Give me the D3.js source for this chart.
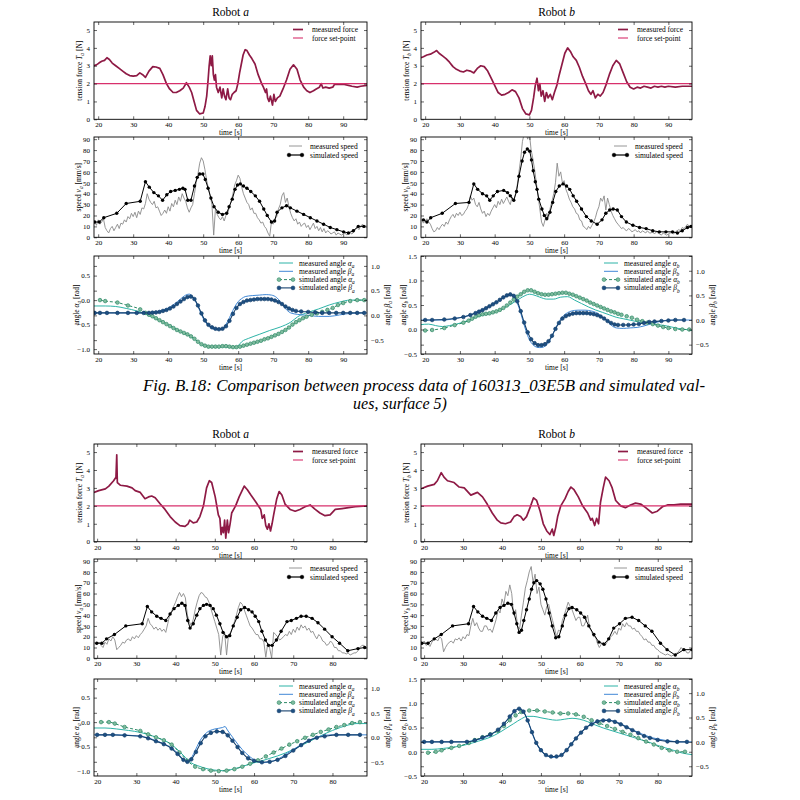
<!DOCTYPE html>
<html>
<head>
<meta charset="utf-8">
<script src="https://cdn.jsdelivr.net/npm/d3@7"></script>
<style>
  body { margin: 0; background: #fff; }
</style>
</head>
<body>
<svg id="fig" width="800" height="800"></svg>
<script>
// ---------- data: tension force [t, N] ----------
const forceA1 = [[18.8,3.0],[19.5,3.05],[20.2,3.15],[21,3.25],[21.8,3.3],[22.5,3.45],[23.2,3.35],[24,3.15],[25,3.0],[26,2.85],[27,2.7],[28,2.55],[29,2.45],[30,2.42],[31,2.45],[31.9,2.6],[32.7,2.5],[33.5,2.35],[34.5,2.7],[35.6,2.95],[36.5,2.93],[37.6,2.85],[38.5,2.5],[39.5,2.0],[40.4,1.7],[41.4,1.5],[42.3,1.5],[43.3,1.6],[44.3,1.75],[45.2,2.05],[46,1.8],[46.7,1.5],[47.4,1.0],[48.1,0.5],[49,0.3],[50,0.35],[50.5,0.7],[51,1.3],[51.4,2.2],[51.7,3.0],[52,3.55],[52.3,3.0],[52.6,3.55],[52.9,2.5],[53.2,2.2],[53.5,2.5],[53.8,1.8],[54.3,1.5],[54.8,1.8],[55.3,1.2],[55.7,1.7],[56.1,1.3],[56.5,1.1],[57,1.7],[57.4,1.2],[57.8,1.1],[58.3,1.4],[58.8,1.5],[59.4,1.6],[59.9,2.0],[60.4,2.6],[60.8,3.0],[61.4,3.6],[62,3.9],[62.5,3.85],[63.2,3.6],[63.9,3.4],[64.8,3.1],[65.7,2.5],[66.7,2.0],[67.2,1.8],[67.8,1.5],[68.1,1.7],[68.4,1.2],[68.8,1.0],[69.2,1.3],[69.8,0.8],[70.2,1.4],[70.6,1.0],[71.2,1.2],[71.9,1.3],[72.8,1.7],[73.8,2.2],[74.8,2.8],[75.8,3.05],[76.8,2.8],[77.7,2.2],[78.7,1.8],[79.6,1.6],[80.5,1.5],[81.5,1.6],[82.3,1.7],[83.2,1.8],[83.7,2.0],[84.2,1.75],[85,1.8],[86,1.75],[87,1.8],[87.5,1.95],[88.5,1.95],[90.3,1.95],[91.5,1.9],[92.5,1.85],[94,1.8],[95,1.85],[96.8,1.9]];
const forceB1 = [[18.8,3.45],[19.5,3.5],[20.5,3.6],[21.5,3.65],[22.5,3.75],[23.3,3.85],[24,3.7],[25,3.55],[26,3.4],[27,3.2],[28,2.95],[29,2.8],[30,2.7],[31,2.65],[32,2.75],[33,2.7],[34,2.6],[35,2.85],[36,3.0],[37,2.95],[38,2.7],[39,2.3],[40,1.9],[41,1.5],[42,1.35],[43,1.4],[44,1.5],[45,1.65],[46,1.55],[47,1.2],[48,0.6],[49,0.3],[50,0.25],[50.6,0.5],[51.2,1.2],[51.7,1.9],[52.2,2.3],[52.6,1.6],[53,2.0],[53.4,1.3],[53.9,1.6],[54.4,1.0],[54.9,1.5],[55.4,1.2],[56,1.4],[56.6,1.1],[57.2,1.5],[57.9,1.9],[58.6,2.5],[59.4,3.1],[60.2,3.7],[61,4.0],[61.8,3.8],[62.6,3.5],[63.5,3.3],[64.4,2.9],[65.3,2.4],[66.2,2.0],[67,1.6],[67.7,1.4],[68.3,1.6],[69,1.2],[69.7,1.4],[70.4,1.3],[71.2,1.5],[72,1.9],[73,2.5],[74,3.0],[75,3.3],[76,3.1],[77,2.6],[78,2.1],[79,1.8],[80,1.7],[81,1.8],[82,1.75],[83,1.85],[84,1.8],[85,1.75],[86,1.85],[87,1.8],[88,1.85],[89,1.8],[90,1.85],[92,1.8],[94,1.85],[96.8,1.85]];
const forceA2 = [[19.2,2.75],[20.4,2.85],[22.1,2.95],[23,3.1],[24.2,3.4],[24.8,3.6],[25,4.85],[25.15,3.3],[25.9,3.15],[27.6,3.1],[28.9,3.0],[29.7,2.85],[31,2.75],[32.2,2.4],[33.1,2.5],[33.9,2.55],[34.8,2.45],[36.1,2.1],[37.3,1.8],[38.6,1.4],[39.9,1.1],[41.1,0.9],[42.4,0.85],[43.2,1.0],[43.6,1.2],[44.5,1.05],[45.4,1.1],[46.2,1.4],[47.1,2.0],[47.9,3.0],[48.6,3.4],[49.2,3.3],[50.1,2.5],[50.9,1.5],[51.3,1.3],[51.6,0.4],[51.9,0.8],[52.2,0.5],[52.5,1.2],[52.8,0.2],[53.2,1.2],[53.5,0.5],[53.9,1.0],[54.3,1.6],[55.3,2.0],[56.2,2.5],[57.5,3.1],[58.3,2.9],[59.2,2.6],[60.5,2.2],[61.7,1.8],[62.1,1.3],[62.6,1.5],[63,0.9],[63.4,0.7],[63.8,1.0],[64.2,0.6],[64.6,1.0],[65,1.5],[65.8,2.4],[66.4,2.8],[67.1,2.6],[67.9,2.1],[69.2,1.8],[70.5,1.7],[71.7,1.8],[73,1.95],[74.3,2.05],[75.6,1.8],[76.8,1.6],[78.1,1.45],[79.4,1.5],[80.7,1.8],[82.4,1.85],[84.1,1.9],[85.8,1.95],[88.8,2.0]];
const forceB2 = [[19.2,2.95],[20.9,3.1],[22.6,3.2],[23.4,3.4],[24.4,3.85],[25.1,3.6],[26,3.4],[27.7,3.3],[29,3.05],[30.3,3.0],[32,2.6],[33.7,2.75],[35,2.5],[36.2,2.1],[37.5,1.6],[38.8,1.2],[39.7,1.05],[40.9,1.0],[42.2,1.1],[43.1,1.4],[43.9,1.5],[44.8,1.4],[45.5,1.2],[46.3,1.4],[47.2,1.9],[48.1,2.45],[48.9,2.3],[49.8,1.7],[50.6,1.0],[51.5,0.6],[52.3,0.4],[52.9,0.7],[53.3,0.35],[53.8,0.8],[54.3,1.4],[55.1,2.0],[56.2,2.4],[57,2.8],[57.7,3.05],[58.5,2.9],[59.6,2.5],[60.7,2.0],[62,1.6],[62.8,1.2],[63.2,1.3],[63.8,0.9],[64.3,1.3],[64.8,1.0],[65.3,2.2],[66,3.0],[66.6,3.6],[67.5,3.4],[68.3,3.0],[69.2,2.3],[70.5,2.0],[71.7,1.9],[73,2.05],[74.3,2.15],[75.6,2.1],[76.9,1.9],[78.6,1.6],[79.9,1.7],[81.2,1.95],[82.5,2.05],[84.2,2.05],[85.9,2.1],[88.8,2.1]];
const forceSetPoint = 2;

// ---------- data: measured speed [mm/s], sampled every 0.5 s ----------
const timeTop = d3.range(19, 97, 0.5);
const timeBot = d3.range(19, 89, 0.5);
const speedMeasA1 = [15,11,16,12,14,17,9,6,4,8,10,6,9,12,8,13,12,16,14,19,17,22,19,23,18,24,21,27,26,31,40,35,32,30,33,27,28,24,20,22,25,22,28,24,31,28,34,30,37,33,40,36,33,27,23,27,30,40,50,58,68,73,70,62,52,45,38,30,2,26,21,18,16,19,15,20,22,28,33,40,48,52,57,54,46,40,36,32,30,25,27,22,22,18,16,13,14,10,8,4,1,14,12,17,19,26,30,38,41,32,36,28,22,18,15,17,12,14,10,12,13,9,11,7,10,13,8,10,6,9,5,8,4,6,5,3,4,5,2,4,3,2,3,4,2,4,4,3,5,7,9,7,10,12,9,11];
const speedMeasB1 = [16,13,15,17,14,12,8,5,6,9,7,10,12,10,14,12,16,19,21,18,22,20,23,20,21,24,26,30,38,34,36,30,28,32,26,22,24,19,22,20,24,27,30,27,33,30,35,31,34,37,33,30,37,33,40,48,60,72,88,95,96,90,95,80,72,62,50,38,26,14,10,16,22,18,27,33,40,50,68,56,60,50,52,44,40,35,32,28,26,22,21,16,15,10,9,7,10,8,11,14,18,24,28,36,33,38,25,36,30,24,20,17,14,12,10,8,9,7,6,8,7,5,6,7,5,6,4,6,5,4,6,4,4,5,3,5,4,3,2,4,3,2,3,4,4,3,5,6,7,6,9,8,10,12,10,11];
const speedMeasA2 = [15,14,13,15,12,10,15,13,18,16,20,17,8,10,12,15,14,17,18,16,20,18,21,19,22,24,27,30,37,32,30,27,29,26,28,25,27,24,32,40,44,48,52,57,61,57,60,56,40,34,30,36,45,52,58,61,60,57,56,52,46,40,34,28,22,3,20,24,3,22,24,28,34,40,47,52,50,45,40,35,30,28,25,22,22,18,18,15,1,14,9,0,24,22,20,17,18,20,22,21,25,22,27,24,29,26,31,28,30,26,28,24,25,21,18,22,20,16,15,12,13,16,14,10,10,7,7,5,5,4,5,3,4,5,5,7,10,12,12,9];
const speedMeasB2 = [15,13,16,12,13,11,15,17,18,16,20,18,6,10,13,15,16,14,18,17,19,16,20,18,22,21,30,37,30,33,28,25,25,30,30,26,27,24,30,36,45,42,55,50,62,58,68,60,40,45,30,27,40,52,65,72,80,85,70,78,60,66,50,45,40,48,50,42,35,28,20,26,25,35,40,46,52,48,45,40,35,38,38,30,30,34,40,28,25,20,20,14,10,13,15,12,15,18,20,22,25,22,28,26,32,29,33,30,30,27,28,25,25,22,20,17,18,15,15,12,12,9,8,6,5,4,3,4,3,2,3,4,5,7,10,8,8,5,5,8];

// ---------- data: simulated speed [t, mm/s] ----------
const speedSimA1 = [[19,14],[20.3,14],[21.6,18],[25.3,22],[28,31],[32,33],[33.5,51],[34.6,46],[35.9,41],[37.2,38],[38.4,34],[39.6,39],[40.7,42],[42,43],[43.2,44],[44.2,45],[44.8,44],[45.6,34],[46.5,34],[47.5,47],[48.3,55],[49,58],[49.9,58],[50.6,53],[51.4,45],[52.2,36],[53.1,28],[54.3,23],[55.5,21],[56.7,22],[57.4,28],[58.3,35],[59.1,44],[59.8,48],[60.6,49],[61.5,47],[62.5,45],[63.6,42],[64.9,38],[66.1,33],[67.3,26],[68.3,20],[69.5,14],[70.4,15],[71.1,23],[72.5,27],[73.8,29],[74.9,27],[76.8,24],[78.7,21],[80.6,18],[82.5,15],[84.4,12],[86.3,9],[88.2,7],[90.1,5],[91.5,4],[92.9,6],[94.3,10],[95.9,10]];
const speedSimB1 = [[19.5,16],[20.5,14],[21.6,18],[24.9,22],[28.7,31],[32.6,32],[34,49],[35.1,44],[36.5,40],[37.7,38],[38.6,34],[39.6,38],[40.8,42],[42.6,43],[43.7,41],[44.5,38],[45.5,34],[46.3,42],[47,56],[47.9,70],[48.6,78],[49.4,81],[50.1,79],[50.6,71],[51.1,61],[51.7,51],[52.2,44],[52.7,35],[53.6,26],[54.3,20],[55,17],[55.9,23],[56.7,32],[57.6,42],[58.6,47],[59.7,49],[60.7,47],[61.6,44],[62.6,38],[63.6,33],[65,26],[66.4,19],[67.8,15],[69.5,12],[70.9,16],[72,22],[73.1,25],[74.1,26],[75.3,25],[76.5,19],[77.9,14],[79.8,11],[81.7,9],[83.6,8],[85.5,6],[87.4,5],[89.3,5],[91.2,5],[92.6,4],[94,6],[95.5,9],[96.5,10]];
const speedSimA2 = [[19.9,14],[21.2,14],[22.4,18],[24.4,22],[27.3,30],[31.5,32],[32.8,48],[33.9,43],[35.2,39],[36.3,37],[37.5,35],[38.6,41],[39.6,46],[40.7,49],[41.6,51],[42.4,49],[43.1,35],[43.7,28],[44.5,32],[45.4,40],[46.2,46],[47.1,49],[47.9,50],[48.8,49],[49.6,46],[50.4,40],[51.3,32],[52.1,24],[53,20],[53.8,21],[54.7,30],[55.7,38],[56.6,45],[57.6,47],[58.6,45],[59.5,43],[60.3,39],[61.2,34],[62,25],[62.9,17],[63.7,12],[64.6,12],[65.7,17],[66.9,25],[68.4,34],[69.5,35],[70.8,37],[72,39],[73.3,39],[74.8,37],[76.3,33],[78,27],[79.9,20],[81.8,14],[83.9,7],[86.5,9],[88.2,10]];
const speedSimB2 = [[19.4,14],[21,14],[22.6,18],[24.4,22],[27.3,30],[31.4,32],[32.7,48],[33.8,43],[35,39],[36.1,37],[37.3,35],[38.4,42],[39.5,47],[40.5,49],[41.5,51],[42.4,50],[43.1,42],[43.8,32],[44.4,24],[45,26],[45.6,35],[46.3,45],[47,55],[47.6,64],[48.2,70],[48.9,72],[49.8,69],[50.5,64],[51.3,55],[52.1,42],[52.9,30],[53.8,19],[54.6,20],[55.5,30],[56.3,40],[57.2,46],[58,47],[59.2,45],[60.2,42],[61.2,38],[62.3,30],[63.6,22],[64.9,15],[66.2,13],[67.4,18],[68.7,28],[70.2,32],[71.7,37],[73.4,38],[75.1,35],[76.8,30],[78.5,25],[80.7,14],[82.4,8],[84.5,3],[86.7,8],[88.8,8]];

// ---------- data: angles [t, rad] ----------
const alphaMeasA1 = [[18.8,-0.12],[22,-0.12],[25,-0.13],[28,-0.17],[31,-0.22],[34,-0.3],[37,-0.4],[40,-0.5],[43,-0.62],[46,-0.73],[48,-0.82],[50,-0.92],[52,-0.95],[55,-0.95],[57,-0.96],[59,-0.97],[60,-0.93],[61,-0.85],[63,-0.78],[66,-0.7],[69,-0.62],[72,-0.55],[75,-0.45],[77,-0.34],[80,-0.25],[83,-0.18],[86,-0.1],[89,-0.04],[92,0.0],[96.8,0.0]];
const alphaSimA1 = [[20.5,0.0],[22,-0.02],[25.5,-0.05],[28.5,-0.11],[32,-0.19],[33.5,-0.26],[34.5,-0.3],[35.5,-0.33],[36.5,-0.37],[37.5,-0.41],[38.5,-0.45],[39.5,-0.49],[40.5,-0.53],[41.5,-0.57],[42.5,-0.61],[43.5,-0.64],[44.5,-0.67],[45.5,-0.7],[46.5,-0.74],[47.5,-0.79],[48.5,-0.85],[49.5,-0.9],[50.5,-0.93],[51.5,-0.95],[52.5,-0.95],[53.5,-0.95],[54.5,-0.95],[55.5,-0.94],[56.5,-0.94],[57.5,-0.95],[58.5,-0.96],[59.5,-0.96],[60.5,-0.95],[61.5,-0.93],[62.5,-0.91],[63.5,-0.89],[64.5,-0.87],[65.5,-0.85],[66.5,-0.83],[67.5,-0.8],[68.5,-0.78],[69.5,-0.75],[70.5,-0.72],[71.5,-0.69],[72.5,-0.65],[73.5,-0.61],[74.5,-0.56],[75.5,-0.5],[76.5,-0.45],[77.5,-0.41],[78.5,-0.37],[79.5,-0.34],[81,-0.3],[82.5,-0.27],[84,-0.24],[85.5,-0.2],[87,-0.16],[88.5,-0.1],[90,-0.06],[92,-0.02],[94,0.0],[96,0.0]];
const betaMeasA1 = [[18.8,0.05],[25,0.05],[30,0.05],[33,0.05],[36,0.07],[38,0.1],[40,0.15],[42,0.24],[43.5,0.33],[45,0.41],[46,0.43],[47,0.38],[48,0.26],[49,0.1],[50,-0.06],[51,-0.17],[52,-0.24],[53,-0.28],[54,-0.29],[55,-0.28],[56,-0.23],[57,-0.12],[58,0.03],[59,0.17],[60,0.28],[61,0.34],[62,0.38],[64,0.4],[66,0.41],[68,0.42],[69.5,0.41],[71,0.36],[72,0.28],[73,0.18],[74,0.1],[75,0.05],[77,0.02],[80,0.0],[83,-0.02],[86,-0.02],[89,0.01],[92,0.04],[96.8,0.05]];
const betaSimA1 = [[19,0.05],[20.5,0.05],[22.5,0.05],[25.5,0.05],[28.5,0.05],[31,0.05],[33,0.05],[34.5,0.05],[35.5,0.055],[36.5,0.06],[37.5,0.07],[38.5,0.09],[39.5,0.11],[40.5,0.14],[41.5,0.18],[42.5,0.23],[43.5,0.28],[44.5,0.33],[45.5,0.37],[46.5,0.38],[47.5,0.33],[48.5,0.2],[49.5,0.04],[50.5,-0.1],[51.5,-0.19],[52.5,-0.24],[53.5,-0.27],[54.5,-0.28],[55.5,-0.27],[56.5,-0.22],[57.5,-0.11],[58.5,0.03],[59.5,0.15],[60.5,0.23],[61.5,0.27],[62.5,0.3],[63.5,0.31],[64.5,0.32],[65.5,0.33],[66.5,0.33],[67.5,0.33],[68.5,0.33],[69.5,0.32],[70.5,0.3],[71.5,0.27],[72.5,0.23],[73.5,0.18],[74.5,0.14],[75.5,0.11],[76.5,0.09],[78,0.08],[80,0.07],[82,0.06],[84,0.05],[86,0.05],[88,0.05],[90,0.05],[92,0.05],[94,0.05],[96,0.05]];

const alphaMeasB1 = [[18.8,0.1],[21,0.11],[23,0.08],[25,0.06],[27,0.08],[29,0.11],[31,0.15],[33,0.2],[35,0.26],[37,0.3],[39,0.33],[41,0.38],[43,0.45],[45,0.53],[47,0.62],[49,0.7],[50,0.72],[51,0.71],[53,0.66],[55,0.62],[57,0.62],[59,0.66],[61,0.67],[63,0.6],[65,0.53],[67,0.46],[69,0.4],[71,0.35],[73,0.3],[75,0.25],[77,0.22],[79,0.19],[81,0.16],[83,0.14],[85,0.12],[87,0.1],[89,0.08],[91,0.05],[93,0.02],[95,0.0],[96.8,-0.02]];
const alphaSimB1 = [[20,-0.02],[22,-0.01],[25.5,0.03],[28.5,0.09],[31,0.14],[32.5,0.18],[33.5,0.22],[34.5,0.26],[35.5,0.29],[36.5,0.31],[37.5,0.32],[38.5,0.33],[39.5,0.35],[40.5,0.37],[41.5,0.4],[42.5,0.44],[43.5,0.49],[44.5,0.55],[45.5,0.61],[46.5,0.67],[47.5,0.72],[48.5,0.77],[49.5,0.8],[50.5,0.8],[51.5,0.77],[52.5,0.74],[53.5,0.72],[54.5,0.71],[55.5,0.71],[56.5,0.72],[57.5,0.73],[58.5,0.74],[59.5,0.75],[60.5,0.75],[61.5,0.73],[62.5,0.71],[63.5,0.68],[64.5,0.65],[65.5,0.62],[66.5,0.59],[67.5,0.55],[68.5,0.52],[69.5,0.49],[70.5,0.46],[71.5,0.43],[72.5,0.4],[73.5,0.37],[74.5,0.35],[75.5,0.32],[76.5,0.3],[78,0.27],[79.5,0.24],[81,0.2],[82.5,0.17],[84,0.14],[85.5,0.11],[87,0.08],[88.5,0.05],[90,0.03],[92,0.01],[94,0.0],[96,0.0]];
const betaMeasB1 = [[18.8,0.0],[25,0.0],[30,0.05],[33,0.1],[36,0.2],[39,0.3],[42,0.43],[44,0.5],[45,0.5],[46,0.42],[47,0.25],[48,0.02],[49,-0.22],[50,-0.4],[51,-0.5],[52,-0.55],[53,-0.56],[54,-0.55],[55,-0.5],[56,-0.4],[57,-0.25],[58,-0.1],[59,0.02],[60,0.1],[61,0.15],[62,0.18],[64,0.2],[66,0.2],[68,0.18],[70,0.12],[71,0.06],[72,0.0],[73,-0.07],[74,-0.13],[75,-0.16],[77,-0.17],[79,-0.16],[81,-0.15],[83,-0.12],[85,-0.08],[87,-0.04],[89,-0.01],[91,0.0],[96.8,0.0]];
const betaSimB1 = [[20,0.0],[22,0.0],[25.5,0.01],[28.5,0.03],[31,0.06],[33,0.1],[34.5,0.14],[35.5,0.17],[36.5,0.2],[37.5,0.24],[38.5,0.28],[39.5,0.32],[40.5,0.36],[41.5,0.41],[42.5,0.46],[43.5,0.5],[44.5,0.52],[45.5,0.49],[46.5,0.38],[47.5,0.18],[48.5,-0.05],[49.5,-0.25],[50.5,-0.39],[51.5,-0.47],[52.5,-0.51],[53.5,-0.51],[54.5,-0.49],[55.5,-0.43],[56.5,-0.32],[57.5,-0.18],[58.5,-0.06],[59.5,0.03],[60.5,0.08],[61.5,0.11],[62.5,0.13],[63.5,0.14],[64.5,0.14],[65.5,0.14],[66.5,0.14],[67.5,0.13],[68.5,0.12],[69.5,0.1],[70.5,0.07],[71.5,0.03],[72.5,-0.02],[73.5,-0.06],[74.5,-0.09],[75.5,-0.1],[77,-0.1],[78.5,-0.1],[80,-0.09],[81.5,-0.08],[83,-0.06],[84.5,-0.04],[86,-0.03],[88,-0.02],[90,-0.01],[92,0.0],[94.5,0.0]];

const alphaMeasA2 = [[19.2,-0.12],[22,-0.12],[25,-0.14],[28,-0.17],[31,-0.21],[34,-0.28],[37,-0.37],[39,-0.46],[41,-0.6],[42.5,-0.72],[44,-0.83],[46,-0.9],[48,-0.95],[50,-0.98],[52,-0.99],[54,-0.97],[56,-0.93],[58,-0.88],[60,-0.83],[62,-0.79],[64,-0.74],[66,-0.69],[68,-0.63],[70,-0.56],[72,-0.48],[74,-0.4],[76,-0.32],[78,-0.24],[80,-0.17],[82,-0.11],[84,-0.06],[86,-0.03],[88.8,-0.03]];
const alphaSimA2 = [[21,0.0],[23,0.0],[24.5,-0.03],[27,-0.1],[31,-0.18],[33,-0.25],[35,-0.31],[37,-0.37],[39,-0.46],[41,-0.62],[43,-0.79],[45,-0.91],[47,-0.96],[49,-0.99],[51,-1.0],[53,-0.99],[55,-0.96],[57,-0.91],[59,-0.85],[61,-0.78],[63,-0.7],[65,-0.62],[67,-0.54],[69,-0.46],[71,-0.39],[73,-0.32],[75,-0.26],[77,-0.2],[79,-0.15],[81,-0.1],[83,-0.06],[85,-0.02],[87,0.0]];
const betaMeasA2 = [[19.2,0.05],[25,0.05],[30,0.03],[33,-0.01],[35,-0.07],[38,-0.17],[40,-0.28],[42,-0.45],[43,-0.5],[44,-0.42],[45,-0.27],[46,-0.1],[48,0.1],[50,0.17],[52,0.2],[52.6,0.22],[53.2,0.15],[55,-0.05],[57,-0.25],[59,-0.4],[61,-0.5],[62,-0.52],[64,-0.5],[66,-0.45],[68,-0.35],[70,-0.25],[72,-0.15],[74,-0.06],[76,0.0],[78,0.04],[80,0.05],[85,0.05],[88.8,0.05]];
const betaSimA2 = [[20,0.05],[22,0.05],[24,0.05],[27,0.04],[31,0.02],[33,-0.02],[35,-0.08],[37,-0.14],[39,-0.23],[40.5,-0.34],[42,-0.46],[43,-0.5],[44,-0.45],[45.2,-0.3],[46.4,-0.12],[47.6,0.02],[49,0.09],[50.5,0.12],[52,0.11],[53.3,0.04],[54.5,-0.07],[55.8,-0.2],[57,-0.32],[58.5,-0.43],[60,-0.48],[62,-0.51],[64,-0.5],[66,-0.46],[68,-0.38],[70,-0.27],[72,-0.16],[74,-0.07],[76,-0.01],[78,0.02],[81,0.05],[84,0.05],[87,0.05]];

const alphaMeasB2 = [[19.2,0.05],[22,0.05],[25,0.07],[28,0.1],[31,0.15],[34,0.22],[37,0.3],[39,0.38],[41,0.48],[43,0.58],[45,0.68],[46.5,0.73],[48,0.73],[50,0.7],[52,0.67],[54,0.65],[56,0.67],[58,0.69],[60,0.67],[62,0.62],[64,0.55],[66,0.49],[68,0.44],[70,0.39],[72,0.34],[74,0.29],[76,0.24],[78,0.19],[80,0.13],[82,0.08],[84,0.03],[86,-0.02],[88.8,-0.06]];
const alphaSimB2 = [[21,-0.02],[23,0.0],[24.5,0.03],[27,0.08],[29,0.12],[31.5,0.18],[33,0.24],[35,0.3],[37,0.36],[39,0.43],[40.5,0.53],[42,0.65],[43.5,0.75],[45,0.82],[47,0.85],[49,0.85],[51,0.83],[53,0.81],[55,0.79],[57,0.79],[59,0.77],[61,0.72],[63,0.65],[65,0.59],[67,0.53],[69,0.47],[71,0.41],[73,0.35],[75,0.28],[77,0.21],[79,0.15],[81,0.08],[83,0.03],[85,0.0],[87,0.0]];
const betaMeasB2 = [[19.2,0.0],[25,0.0],[30,0.0],[33,0.03],[36,0.1],[39,0.25],[41,0.42],[43,0.6],[44,0.68],[45,0.67],[46,0.55],[47,0.35],[48,0.12],[49,-0.06],[50,-0.18],[51,-0.26],[52,-0.3],[53,-0.32],[54,-0.31],[55,-0.28],[56,-0.21],[57,-0.12],[58,-0.02],[59,0.08],[60,0.17],[61,0.25],[62,0.32],[64,0.41],[66,0.45],[68,0.44],[70,0.39],[72,0.31],[74,0.23],[76,0.16],[78,0.1],[80,0.06],[82,0.03],[84,0.01],[86,0.0],[88.8,0.0]];
const betaSimB2 = [[20,0.0],[22,0.0],[24.5,0.0],[27,0.0],[31,0.0],[33,0.03],[35,0.09],[37,0.15],[39,0.25],[40.5,0.37],[42,0.52],[43.2,0.63],[44.4,0.68],[45.5,0.62],[46.6,0.44],[47.7,0.2],[48.8,-0.02],[50,-0.17],[51.3,-0.27],[52.6,-0.3],[54,-0.3],[55.3,-0.27],[56.6,-0.17],[57.8,-0.05],[59,0.07],[60.3,0.19],[61.6,0.29],[63,0.36],[64.5,0.42],[66,0.44],[67.5,0.44],[69,0.41],[70.5,0.36],[72,0.3],[73.5,0.24],[75,0.18],[76.5,0.12],[78,0.08],[80,0.04],[82.5,0.01],[85,0.0],[87.5,0.0]];

// ---------- ticks / texts ----------
const timeTicksTop = [20, 30, 40, 50, 60, 70, 80, 90];
const timeTicksBot = [20, 30, 40, 50, 60, 70, 80];
const forceTicks = [0, 1, 2, 3, 4, 5];
const speedTicks = [0, 10, 20, 30, 40, 50, 60, 70, 80, 90];
const alphaTicksA = [-1.0, -0.5, 0.0, 0.5];
const alphaTicksB = [-0.5, 0.0, 0.5, 1.0, 1.5];
const betaTicks = [-0.5, 0.0, 0.5, 1.0];
const captionLines = ["Fig. B.18: Comparison between process data of 160313_03E5B and simulated val-", "ues, surface 5)"];

// ---------- style ----------
const SERIF = "'Liberation Serif','DejaVu Serif',serif";
const col = {
  force: "#8e1a45", setp: "#d8306c",
  spdM: "#8a8a8a", spdS: "#000",
  aM: "#2db3a7", bM: "#4088d6",
  aS: "#2e8a67", aSfill: "#7fbb9e",
  bS: "#15406d", bSfill: "#1d4f82"
};

const svg = d3.select("#fig");
svg.append("rect").attr("width", 800).attr("height", 800).attr("fill", "#fff");
let clipN = 0;

// text with italic and subscript pieces
function rich(sel, parts, fs) {
  let low = false;
  parts.forEach(([s, k]) => {
    const t = sel.append("tspan").text(s);
    if (k === "i") t.attr("font-style", "italic");
    if (k === "s") {
      t.attr("font-style", "italic").attr("font-size", fs * 0.72).attr("dy", fs * 0.28);
      low = true;
    } else if (low) {
      t.attr("dy", -fs * 0.28);
      low = false;
    }
  });
  return sel;
}

function styleAxis(g) {
  g.select(".domain").remove();
  g.attr("font-family", SERIF).attr("font-size", 7);
  g.selectAll(".tick line").attr("stroke", "#000").attr("stroke-width", 0.6);
  g.selectAll(".tick text").attr("fill", "#000");
}

function makePanel(o) {
  const x = d3.scaleLinear().domain(o.xd).range([o.x0, o.x1]);
  const y = d3.scaleLinear().domain(o.yd).range([o.y1, o.y0]);
  const g = svg.append("g");
  const cid = "clip" + (clipN++);
  g.append("clipPath").attr("id", cid).append("rect")
    .attr("x", o.x0).attr("y", o.y0).attr("width", o.x1 - o.x0).attr("height", o.y1 - o.y0);
  const plot = g.append("g").attr("clip-path", `url(#${cid})`);
  const axes = g.append("g");
  const tl = 3;

  axes.append("g").attr("transform", `translate(0,${o.y1})`)
    .call(d3.axisBottom(x).tickValues(o.xt).tickSize(-tl).tickPadding(3).tickFormat(d3.format("d")))
    .call(styleAxis);
  axes.append("g").attr("transform", `translate(0,${o.y0})`)
    .call(d3.axisTop(x).tickValues(o.xt).tickSize(-tl).tickFormat(""))
    .call(styleAxis);
  axes.append("g").attr("transform", `translate(${o.x0},0)`)
    .call(d3.axisLeft(y).tickValues(o.yt).tickSize(-tl).tickPadding(4).tickFormat(o.yf))
    .call(styleAxis);

  let y2 = null;
  if (o.y2d) {
    y2 = d3.scaleLinear().domain(o.y2d).range([o.y1, o.y0]);
    axes.append("g").attr("transform", `translate(${o.x1},0)`)
      .call(d3.axisRight(y2).tickValues(o.y2t).tickSize(-tl).tickPadding(4).tickFormat(d3.format(".1f")))
      .call(styleAxis);
    axes.append("g").attr("transform", `translate(${o.x0},0)`)
      .call(d3.axisRight(y2).tickValues(o.y2t).tickSize(tl).tickFormat(""))
      .call(styleAxis);
    axes.append("g").attr("transform", `translate(${o.x1},0)`)
      .call(d3.axisLeft(y).tickValues(o.yt).tickSize(tl).tickFormat(""))
      .call(styleAxis);
  } else {
    axes.append("g").attr("transform", `translate(${o.x1},0)`)
      .call(d3.axisRight(y).tickValues(o.yt).tickSize(-tl).tickFormat(""))
      .call(styleAxis);
  }

  axes.append("rect").attr("x", o.x0).attr("y", o.y0)
    .attr("width", o.x1 - o.x0).attr("height", o.y1 - o.y0)
    .attr("fill", "none").attr("stroke", "#000").attr("stroke-width", 0.9);

  // x label
  axes.append("text").attr("x", (o.x0 + o.x1) / 2).attr("y", o.y1 + 16)
    .attr("text-anchor", "middle").attr("font-family", SERIF).attr("font-size", 7.5)
    .text("time [s]");
  // y label
  const yc = (o.y0 + o.y1) / 2;
  rich(axes.append("text").attr("transform", `translate(${o.x0 - o.ylOff},${yc}) rotate(-90)`)
    .attr("text-anchor", "middle").attr("font-family", SERIF).attr("font-size", 7.5), o.ylabel, 7.5);
  if (o.y2label) {
    rich(axes.append("text").attr("transform", `translate(${o.x1 + 23},${yc}) rotate(-90)`)
      .attr("text-anchor", "middle").attr("font-family", SERIF).attr("font-size", 7.5), o.y2label, 7.5);
  }
  return { g, plot, axes, x, y, y2, o };
}

function lineGen(p, yy, curve) {
  return d3.line().x(d => p.x(d[0])).y(d => yy(d[1])).curve(curve || d3.curveLinear);
}

function legend(p, rows, dx0, dx1, dxt, dy0, step) {
  const o = p.o;
  rows.forEach((r, i) => {
    const yy = o.y0 + dy0 + i * step;
    const lg = p.axes.append("g");
    lg.append("line").attr("x1", o.x1 - dx0).attr("x2", o.x1 - dx1).attr("y1", yy).attr("y2", yy)
      .attr("stroke", r.color).attr("stroke-width", r.w || 1).attr("stroke-dasharray", r.dash || null);
    if (r.marker) {
      [o.x1 - dx0, o.x1 - dx1].forEach(mx => lg.append("circle").attr("cx", mx).attr("cy", yy)
        .attr("r", r.r || 1.9).attr("fill", r.fill).attr("stroke", r.color).attr("stroke-width", 0.6));
    }
    rich(lg.append("text").attr("x", o.x1 - dxt).attr("y", yy + 2.5)
      .attr("font-family", SERIF).attr("font-size", 7.5), r.label, 7.5);
  });
}

function forcePanel(base, r, meas) {
  const p = makePanel(Object.assign({}, base, {
    yd: [0, 5.45], yt: forceTicks, yf: d3.format("d"), ylOff: 12.5,
    ylabel: [["tension force ", ""], ["T", "i"], [r, "s"], [" [N]", ""]]
  }));
  p.plot.append("path").datum(meas).attr("d", lineGen(p, p.y))
    .attr("fill", "none").attr("stroke", col.force).attr("stroke-width", 1.7).attr("stroke-linejoin", "round");
  p.plot.append("line").attr("x1", base.x0).attr("x2", base.x1)
    .attr("y1", p.y(forceSetPoint)).attr("y2", p.y(forceSetPoint))
    .attr("stroke", col.setp).attr("stroke-width", 1.1);
  legend(p, [
    { color: col.force, w: 1.7, label: [["measured force", ""]] },
    { color: col.setp, w: 1.1, label: [["force set-point", ""]] }
  ], 74, 64, 55, 7.5, 8.5);
  return p;
}

function speedPanel(base, r, time, meas, sim) {
  const p = makePanel(Object.assign({}, base, {
    yd: [0, 92], yt: speedTicks, yf: d3.format("d"), ylOff: 13,
    ylabel: [["speed ", ""], ["v", "i"], [r, "s"], ["  [mm/s]", ""]]
  }));
  const md = meas.map((v, i) => [time[i], v]);
  p.plot.append("path").datum(md).attr("d", lineGen(p, p.y))
    .attr("fill", "none").attr("stroke", col.spdM).attr("stroke-width", 0.9);
  p.plot.append("path").datum(sim).attr("d", lineGen(p, p.y))
    .attr("fill", "none").attr("stroke", col.spdS).attr("stroke-width", 1);
  p.plot.selectAll("circle.sim").data(sim).join("circle").attr("class", "sim")
    .attr("cx", d => p.x(d[0])).attr("cy", d => p.y(d[1])).attr("r", 1.7).attr("fill", "#000");
  legend(p, [
    { color: col.spdM, w: 0.9, label: [["measured speed", ""]] },
    { color: "#000", w: 1.2, marker: true, fill: "#000", r: 1.8, label: [["simulated speed", ""]] }
  ], 78, 65, 57, 9, 9);
  return p;
}

function anglePanel(base, r, cfg) {
  const p = makePanel(Object.assign({}, base, {
    yd: cfg.yd, yt: cfg.yt, yf: d3.format(".1f"), ylOff: 15.5,
    y2d: cfg.y2d, y2t: betaTicks,
    ylabel: [["angle ", ""], ["α", "i"], [r, "s"], [" [rad]", ""]],
    y2label: [["angle ", ""], ["β", "i"], [r, "s"], [" [rad]", ""]]
  }));
  const smooth = d3.curveMonotoneX;
  p.plot.append("path").datum(cfg.aM).attr("d", lineGen(p, p.y, smooth))
    .attr("fill", "none").attr("stroke", col.aM).attr("stroke-width", 1);
  p.plot.append("path").datum(cfg.bM).attr("d", lineGen(p, p.y2, smooth))
    .attr("fill", "none").attr("stroke", col.bM).attr("stroke-width", 1);
  p.plot.append("path").datum(cfg.aS).attr("d", lineGen(p, p.y, smooth))
    .attr("fill", "none").attr("stroke", col.aS).attr("stroke-width", 1).attr("stroke-dasharray", "3,2");
  p.plot.selectAll("circle.as").data(cfg.aS).join("circle").attr("class", "as")
    .attr("cx", d => p.x(d[0])).attr("cy", d => p.y(d[1])).attr("r", 1.8)
    .attr("fill", col.aSfill).attr("stroke", col.aS).attr("stroke-width", 0.7);
  p.plot.append("path").datum(cfg.bS).attr("d", lineGen(p, p.y2, smooth))
    .attr("fill", "none").attr("stroke", col.bS).attr("stroke-width", 1.1);
  p.plot.selectAll("circle.bs").data(cfg.bS).join("circle").attr("class", "bs")
    .attr("cx", d => p.x(d[0])).attr("cy", d => p.y2(d[1])).attr("r", 1.8)
    .attr("fill", col.bSfill).attr("stroke", col.bS).attr("stroke-width", 0.7);
  legend(p, [
    { color: col.aM, label: [["measured angle ", ""], ["α", "i"], [r, "s"]] },
    { color: col.bM, label: [["measured angle ", ""], ["β", "i"], [r, "s"]] },
    { color: col.aS, dash: "3,2", marker: true, fill: col.aSfill, label: [["simulated angle ", ""], ["α", "i"], [r, "s"]] },
    { color: col.bS, w: 1.1, marker: true, fill: col.bSfill, label: [["simulated angle ", ""], ["β", "i"], [r, "s"]] }
  ], 88, 74, 68, 7, 8.3);
  return p;
}

function title(cx, y, r) {
  rich(svg.append("text").attr("x", cx).attr("y", y).attr("text-anchor", "middle")
    .attr("font-family", SERIF).attr("font-size", 11.5), [["Robot ", ""], [r, "i"]], 11.5);
}

// ---------- layout ----------
const colA = { x0: 94, x1: 367 };
const colB = { x0: 421, x1: 692 };
const xdTop = [18.8, 96.8];
const xdBot = [19.2, 88.8];

function fig(rows, xd, xt, time, set) {
  [["a", colA], ["b", colB]].forEach(([r, c]) => {
    const d = set[r];
    title((c.x0 + c.x1) / 2, rows.title, r);
    forcePanel(Object.assign({}, c, { y0: rows.force[0], y1: rows.force[1], xd, xt }), r, d.force);
    speedPanel(Object.assign({}, c, { y0: rows.speed[0], y1: rows.speed[1], xd, xt }), r, time, d.spdM, d.spdS);
    anglePanel(Object.assign({}, c, { y0: rows.angle[0], y1: rows.angle[1], xd, xt }), r, d.ang);
  });
}

fig({ title: 16, force: [22, 119.3], speed: [137, 237.3], angle: [256, 354] }, xdTop, timeTicksTop, timeTop, {
  a: { force: forceA1, spdM: speedMeasA1, spdS: speedSimA1,
       ang: { yd: [-1.1, 0.9], yt: alphaTicksA, y2d: [-0.78, 1.2], aM: alphaMeasA1, aS: alphaSimA1, bM: betaMeasA1, bS: betaSimA1 } },
  b: { force: forceB1, spdM: speedMeasB1, spdS: speedSimB1,
       ang: { yd: [-0.5, 1.5], yt: alphaTicksB, y2d: [-0.69, 1.3], aM: alphaMeasB1, aS: alphaSimB1, bM: betaMeasB1, bS: betaSimB1 } }
});

fig({ title: 438, force: [444, 541.7], speed: [559, 658.3], angle: [679, 776] }, xdBot, timeTicksBot, timeBot, {
  a: { force: forceA2, spdM: speedMeasA2, spdS: speedSimA2,
       ang: { yd: [-1.1, 0.88], yt: alphaTicksA, y2d: [-0.79, 1.19], aM: alphaMeasA2, aS: alphaSimA2, bM: betaMeasA2, bS: betaSimA2 } },
  b: { force: forceB2, spdM: speedMeasB2, spdS: speedSimB2,
       ang: { yd: [-0.5, 1.5], yt: alphaTicksB, y2d: [-0.7, 1.29], aM: alphaMeasB2, aS: alphaSimB2, bM: betaMeasB2, bS: betaSimB2 } }
});

// ---------- caption ----------
svg.append("text").attr("x", 424).attr("y", 391).attr("text-anchor", "middle")
  .attr("font-family", SERIF).attr("font-style", "italic").attr("font-size", 16)
  .attr("textLength", 562).attr("lengthAdjust", "spacingAndGlyphs")
  .text(captionLines[0]);
svg.append("text").attr("x", 400).attr("y", 409).attr("text-anchor", "middle")
  .attr("font-family", SERIF).attr("font-style", "italic").attr("font-size", 16)
  .text(captionLines[1]);
</script>
</body>
</html>
